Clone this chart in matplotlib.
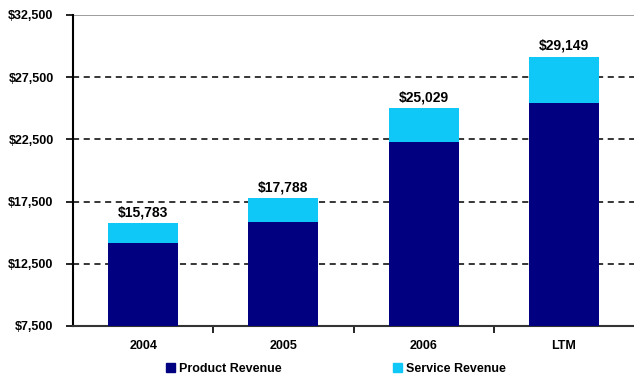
import matplotlib.pyplot as plt
from matplotlib.patches import Patch
from matplotlib.ticker import FixedLocator

plt.rcParams['font.family'] = ['Liberation Sans', 'DejaVu Sans']

# Revenue by period ($ thousands)
periods = ['2004', '2005', '2006', 'LTM']
product_revenue = [14150, 15900, 22330, 25450]
total_revenue = [15783, 17788, 25029, 29149]
service_revenue = [t - p for t, p in zip(total_revenue, product_revenue)]

y_ticks = [7500, 12500, 17500, 22500, 27500, 32500]

navy = '#000080'
cyan = '#10C8F8'

fig = plt.figure(figsize=(6.34, 3.78), dpi=100)
ax = fig.add_axes([73 / 634, 1 - 326 / 378, 561 / 634, 311 / 378])

x = range(len(periods))
ax.bar(x, product_revenue, width=0.5, color=navy, label='Product Revenue', zorder=3)
ax.bar(x, service_revenue, width=0.5, bottom=product_revenue, color=cyan,
       label='Service Revenue', zorder=3)

for xi, total in zip(x, total_revenue):
    ax.text(xi, total + 300, f'${total:,}', ha='center', va='bottom',
            fontsize=10, fontweight='bold', zorder=4)

ax.set_xlim(-0.5, 3.5)
ax.set_ylim(7500, 32500)
ax.set_yticks(y_ticks)
ax.set_yticklabels([f'${v:,}' for v in y_ticks], fontsize=9, fontweight='bold')
for v in y_ticks[1:-1]:
    ax.axhline(v, color='black', linestyle=(0, (4, 3)), linewidth=1.1, zorder=1)
ax.axhline(32500, color='#8c8c8c', linewidth=1.2, zorder=1)

ax.set_xticks(list(x))
ax.set_xticklabels(periods, fontsize=9, fontweight='bold')
ax.xaxis.set_minor_locator(FixedLocator([0.5, 1.5, 2.5]))
ax.tick_params(axis='x', which='major', length=0, pad=10)
ax.tick_params(axis='x', which='minor', length=5, width=1.2, direction='out')
ax.tick_params(axis='y', length=5, width=1.2, pad=9, direction='out')

for side in ['top', 'right']:
    ax.spines[side].set_visible(False)
ax.spines['left'].set_linewidth(1.5)
ax.spines['bottom'].set_linewidth(1.5)
ax.spines['bottom'].set_color('#333333')

handles = [Patch(color=navy, label='Product Revenue'),
           Patch(color=cyan, label='Service Revenue')]
fig.legend(handles=handles, loc='center', bbox_to_anchor=(336 / 634, 1 - 369 / 378),
           ncol=2, frameon=False, handlelength=0.75, handleheight=0.75,
           handletextpad=0.3, columnspacing=8.9,
           prop={'size': 9, 'weight': 'bold'})

fig.savefig('out.png', dpi=100)
